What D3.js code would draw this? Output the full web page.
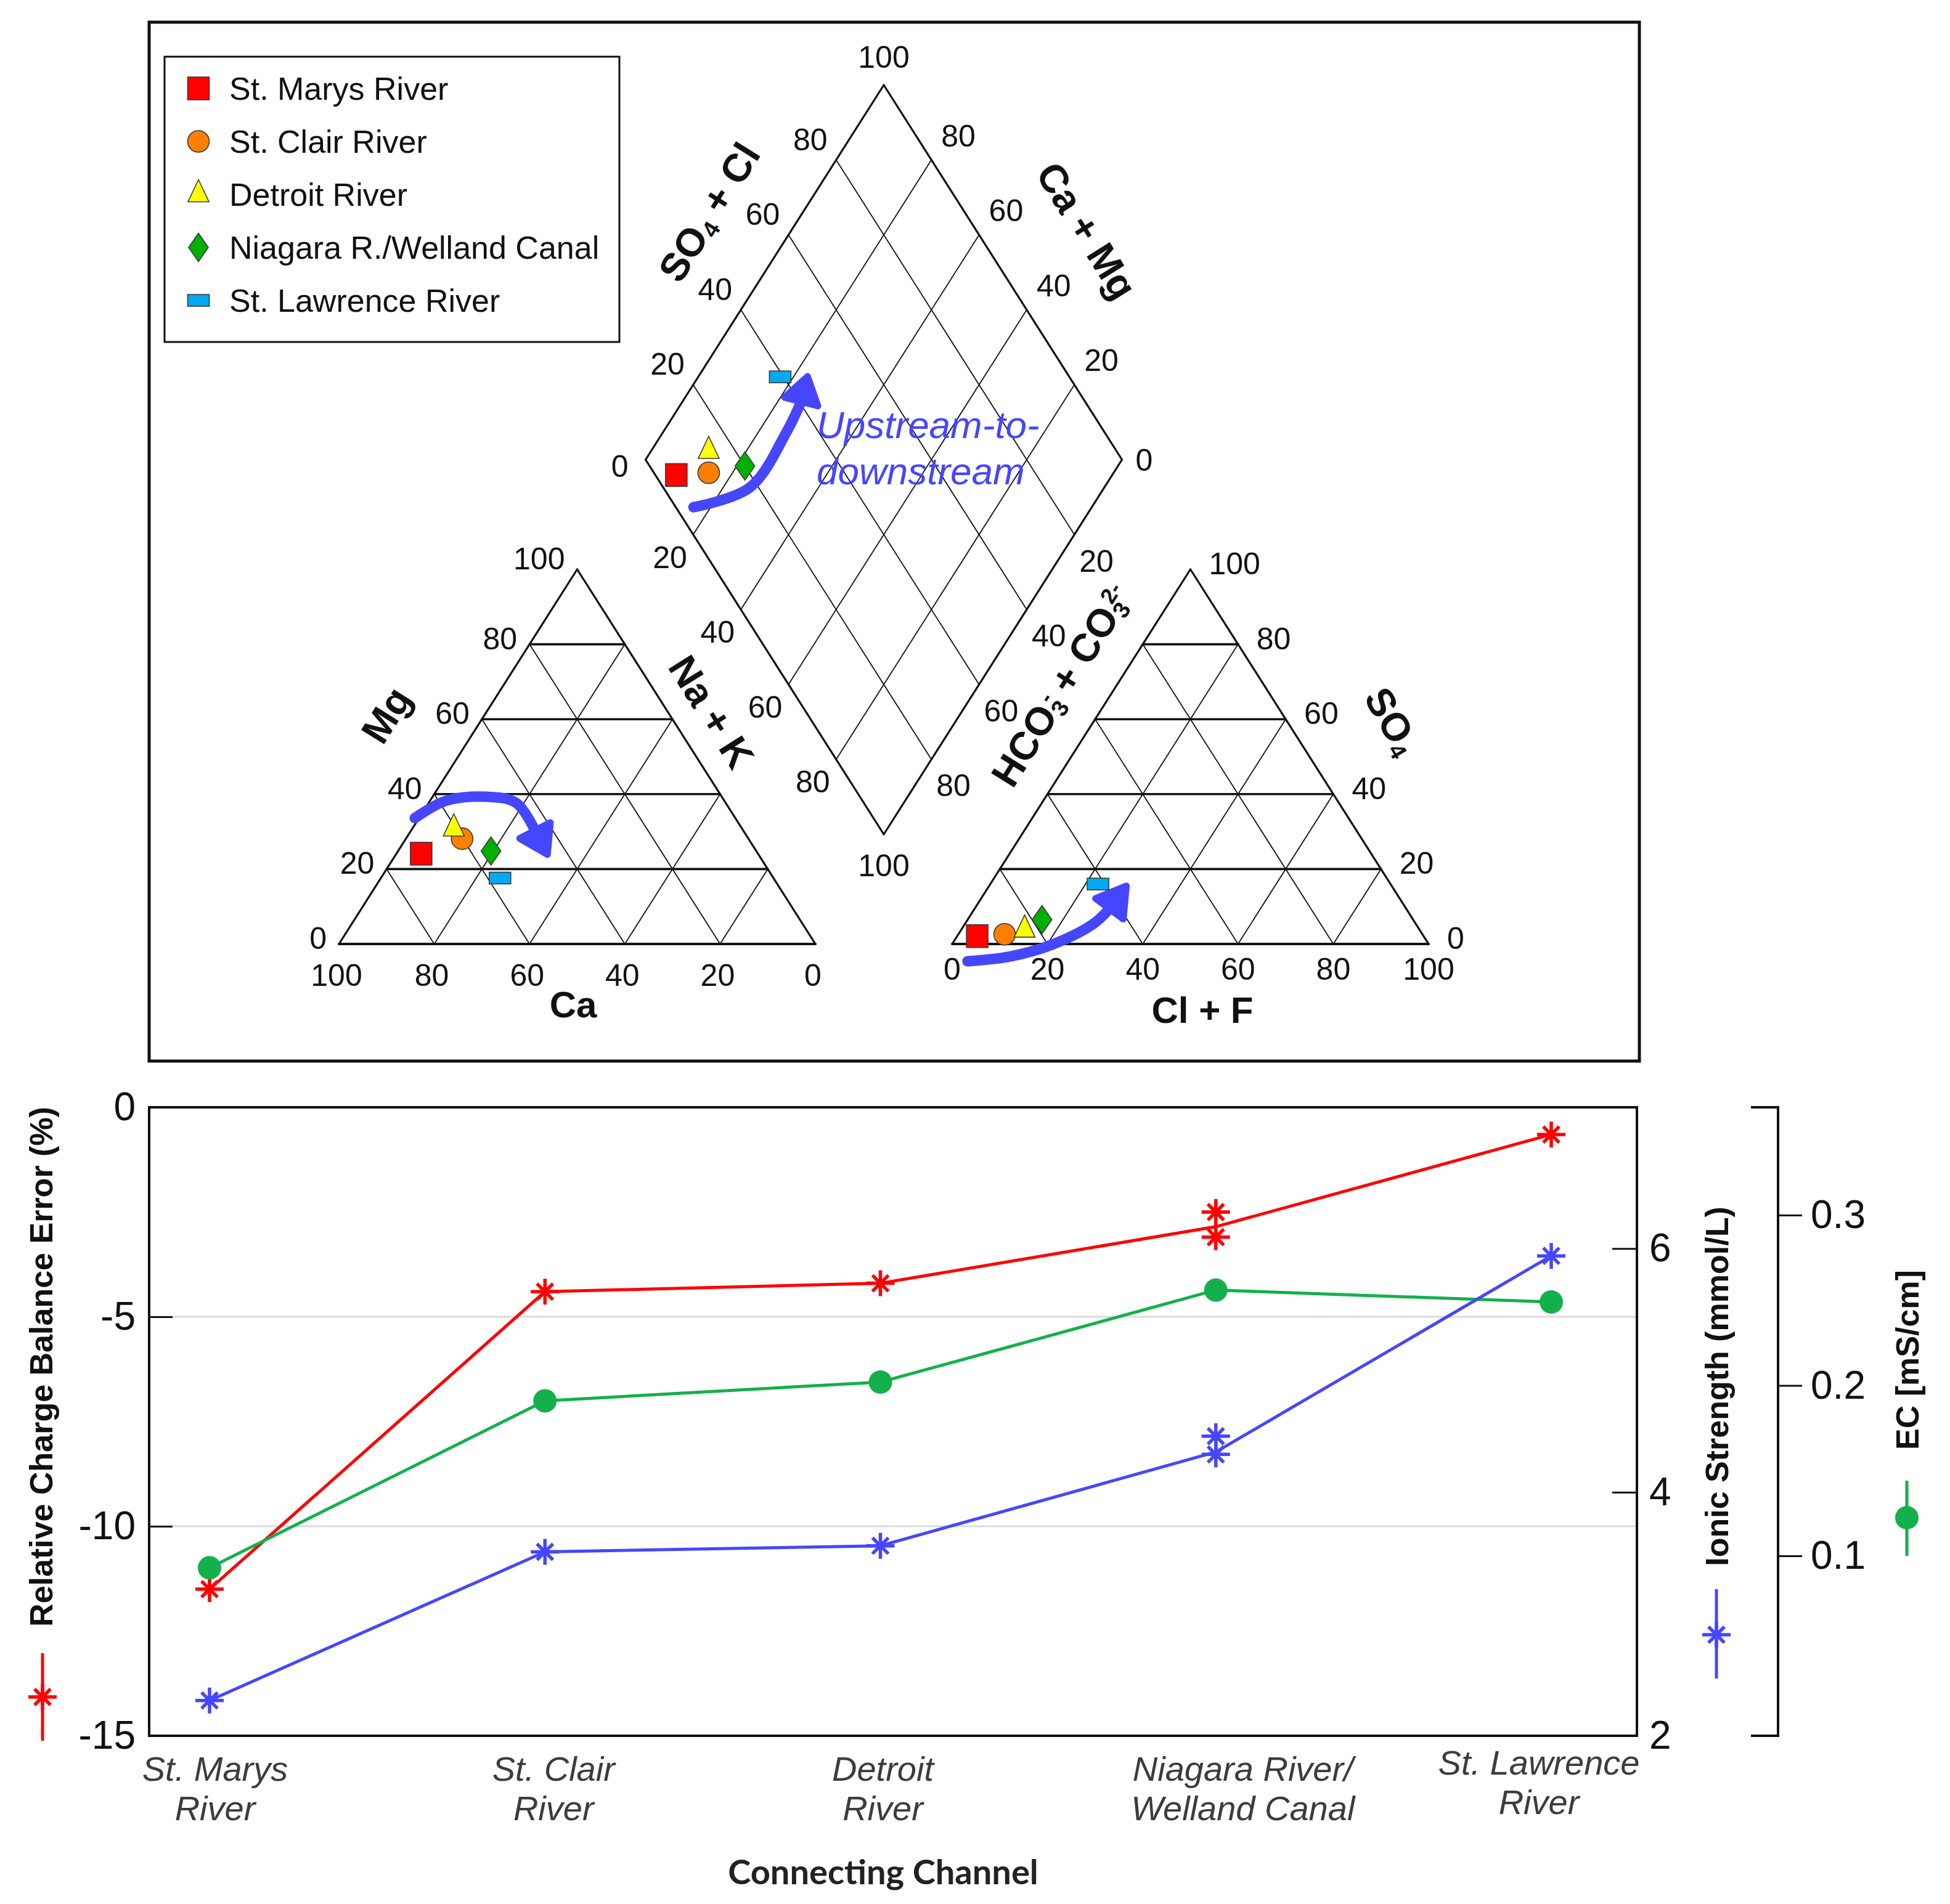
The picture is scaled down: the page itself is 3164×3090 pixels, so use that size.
<!DOCTYPE html>
<html>
<head>
<meta charset="utf-8">
<script src="https://cdn.jsdelivr.net/npm/d3@7"></script>
<style>
  body { margin: 0; background: #fff; }
  svg { display: block; font-family: "Liberation Sans", Arial, sans-serif; }
</style>
</head>
<body>
<svg id="chart" width="3164" height="3090"></svg>
<script>
(function () {
  'use strict';

  // ---- Piper diagram data (% meq) ----
  var sites = ['St. Marys River', 'St. Clair River', 'Detroit River', 'Niagara R./Welland Canal', 'St. Lawrence River'];
  var siteShapes = ['square', 'circle', 'triangle', 'diamond', 'rect'];
  var siteColors = ['#ff0000', '#ff8000', '#ffff00', '#00b000', '#00aaf0'];

  var cationMg = [24.1, 28.1, 30.8, 24.8, 17.6];
  var cationNaK = [5.2, 11.8, 8.7, 19.5, 25.0];
  var anionSO4 = [2.1, 2.6, 3.8, 6.5, 16.0];
  var anionClF = [4.2, 9.7, 13.3, 15.6, 22.6];
  var diamondSO4Cl = [4.4, 11.5, 14.4, 20.0, 39.3];
  var diamondNaK = [8.5, 15.0, 12.1, 21.7, 17.2];

  var piperTicks = [0, 20, 40, 60, 80, 100];

  // upstream-to-downstream arrows, in the same percent coordinates
  var cationArrowMg = [33.6, 38.2, 39.3, 37.7, 30.3, 23.9];
  var cationArrowNaK = [-0.9, 3.3, 11.4, 18.3, 26.0, 31.8];
  var anionArrowSO4 = [-4.6, -3.3, -0.2, 5.3, 9.4, 15.5];
  var anionArrowClF = [5.5, 13.9, 21.0, 26.9, 28.3, 28.8];
  var diamondArrowSO4Cl = [3.7, 18.2, 33.2, 40.4, 45.1];
  var diamondArrowNaK = [16.4, 25.6, 25.9, 24.9, 22.9];

  // ---- Connecting channel profile ----
  var channelLabels = [['St. Marys', 'River'], ['St. Clair', 'River'], ['Detroit', 'River'],
    ['Niagara River/', 'Welland Canal'], ['St. Lawrence', 'River']];
  var chargeError = [-11.5, -4.4, -4.2, -2.85, -0.65];
  var chargeErrorNiagara = [-2.5, -3.1];
  var ionicStrength = [2.29, 3.51, 3.56, 4.33, 5.94];
  var ionicStrengthNiagara = [4.46, 4.31];
  var ec = [0.093, 0.191, 0.202, 0.256, 0.249];
  var niagaraIndex = 3;

  var errTicks = [0, -5, -10, -15];
  var errGrid = [-5, -10];
  var ionicTicks = [2, 4, 6];
  var ecTicks = [0.1, 0.2, 0.3];

  // small hand nudges of the category labels, as in the source figure
  var labelShiftX = [9, 14, 4, 44, -20];
  var labelShiftY = [0, 0, 0, 0, -10];

  var ARROW_BLUE = '#4646ff';
  var RED = '#ff0000', BLUE = '#4646ff', GREEN = '#13b04b';

  var svg = d3.select('#chart');

  drawPiper(svg);
  drawLegend(svg);
  drawProfile(svg);

  // ------------------------------------------------------------------
  function drawMarker(g, shape, color, x, y) {
    var m;
    if (shape === 'circle') {
      m = g.append('circle').attr('cx', x).attr('cy', y).attr('r', 17.5);
    } else if (shape === 'square') {
      m = g.append('rect').attr('x', x - 17.5).attr('y', y - 18.5).attr('width', 35).attr('height', 37);
    } else if (shape === 'rect') {
      m = g.append('rect').attr('x', x - 17.5).attr('y', y - 9.5).attr('width', 35).attr('height', 19);
    } else if (shape === 'triangle') {
      m = g.append('path').attr('d', 'M' + x + ',' + (y - 24) + 'L' + (x + 17) + ',' + (y + 12) +
        'L' + (x - 17) + ',' + (y + 12) + 'Z');
    } else {
      m = g.append('path').attr('d', 'M' + x + ',' + (y - 23) + 'L' + (x + 16) + ',' + y +
        'L' + x + ',' + (y + 23) + 'L' + (x - 16) + ',' + y + 'Z');
    }
    m.style('fill', color).style('stroke', '#3a3a3a').style('stroke-width', 1.6);
  }

  function drawArrow(g, pts) {
    var shaft = pts.slice(0, -1);
    var base = shaft[shaft.length - 1];
    var tip = pts[pts.length - 1];
    var dx = tip[0] - base[0], dy = tip[1] - base[1];
    var len = Math.sqrt(dx * dx + dy * dy);
    var ux = dx / len, uy = dy / len;
    var hw = 28;

    g.append('path')
      .attr('d', d3.line().curve(d3.curveCatmullRom)(shaft))
      .style('fill', 'none')
      .style('stroke', ARROW_BLUE)
      .style('stroke-width', 17)
      .style('stroke-linecap', 'round')
      .style('stroke-linejoin', 'round');

    g.append('path')
      .attr('d', 'M' + tip[0] + ',' + tip[1] +
        'L' + (base[0] - uy * hw) + ',' + (base[1] + ux * hw) +
        'L' + (base[0] + uy * hw) + ',' + (base[1] - ux * hw) + 'Z')
      .style('fill', ARROW_BLUE)
      .style('stroke', ARROW_BLUE)
      .style('stroke-width', 11)
      .style('stroke-linejoin', 'round');
  }

  function drawPiper(svg) {
    var g = svg.append('g').classed('piper', true);

    var kx = d3.scaleLinear().domain([0, 100]).range([0, 773]);
    var ky = d3.scaleLinear().domain([0, 100]).range([0, 608]);
    var baseY = 1532, catX0 = 550, anX0 = 1545;
    var dLx = (catX0 + kx(100) + anX0) / 2 - kx(50);
    var dLy = 746;

    function cation(mg, nak) { return [catX0 + kx(nak + mg / 2), baseY - ky(mg)]; }
    function anion(so4, cl) { return [anX0 + kx(cl + so4 / 2), baseY - ky(so4)]; }
    function diamond(a, b) { return [dLx + kx(a + b) / 2, dLy + ky(b - a)]; }

    // outer frame of the figure
    g.append('rect')
      .attr('x', 242).attr('y', 36).attr('width', 2418).attr('height', 1686)
      .style('fill', 'none').style('stroke', '#111').style('stroke-width', 5);

    function seg(a, b, w) {
      g.append('line')
        .attr('x1', a[0]).attr('y1', a[1]).attr('x2', b[0]).attr('y2', b[1])
        .style('stroke', '#111').style('stroke-width', w).style('stroke-linecap', 'round');
    }

    var inner = piperTicks.slice(1, -1);

    // cation triangle
    inner.forEach(function (t) {
      seg(cation(0, t), cation(100 - t, t), 1.8);
      seg(cation(0, 100 - t), cation(100 - t, 0), 1.8);
      seg(cation(t, 0), cation(t, 100 - t), 3.6);
    });
    seg(cation(0, 0), cation(0, 100), 4);
    seg(cation(0, 100), cation(100, 0), 3.2);
    seg(cation(100, 0), cation(0, 0), 3.2);

    // anion triangle
    inner.forEach(function (t) {
      seg(anion(0, t), anion(100 - t, t), 1.8);
      seg(anion(0, 100 - t), anion(100 - t, 0), 1.8);
      seg(anion(t, 0), anion(t, 100 - t), 3.6);
    });
    seg(anion(0, 0), anion(0, 100), 4);
    seg(anion(0, 100), anion(100, 0), 3.2);
    seg(anion(100, 0), anion(0, 0), 3.2);

    // diamond
    inner.forEach(function (t) {
      seg(diamond(t, 0), diamond(t, 100), 1.8);
      seg(diamond(0, t), diamond(100, t), 1.8);
    });
    seg(diamond(0, 0), diamond(100, 0), 3.2);
    seg(diamond(100, 0), diamond(100, 100), 3.2);
    seg(diamond(100, 100), diamond(0, 100), 3.2);
    seg(diamond(0, 100), diamond(0, 0), 3.2);

    // tick labels
    function label(p, dx, dy, text, anchor) {
      g.append('text')
        .attr('x', p[0] + dx).attr('y', p[1] + dy)
        .attr('dy', '0.36em')
        .attr('text-anchor', anchor)
        .style('font-size', '50px')
        .style('fill', '#111')
        .text(text);
    }

    piperTicks.forEach(function (t) {
      label(cation(t, 0), -20, t === 100 ? -18 : -10, t, 'end');
      label(cation(0, 100 - t), -4, 50, t, 'middle');
      label(anion(0, t), 0, 40, t, 'middle');
      label(anion(t, 100 - t), 30, -10, t, 'start');

      if (t === 0) {
        label(diamond(0, 0), -28, 10, t, 'end');
        label(diamond(100, 100), 22, 0, t, 'start');
      } else if (t === 100) {
        label(diamond(100, 0), 0, -46, t, 'middle');
        label(diamond(0, 100), 0, 50, t, 'middle');
      } else {
        label(diamond(t, 0), -14, -34, t, 'end');
        label(diamond(100, 100 - t), 16, -40, t, 'start');
        label(diamond(0, t), -10, 36, t, 'end');
        label(diamond(100 - t, 100), 8, 42, t, 'start');
      }
    });

    // axis titles
    function title(x, y, angle, parts) {
      var t = g.append('text')
        .attr('transform', 'translate(' + x + ',' + y + ') rotate(' + angle + ')')
        .attr('text-anchor', 'middle')
        .attr('dy', '0.36em')
        .style('font-size', '64px')
        .style('font-weight', 'bold')
        .style('fill', '#111');
      parts.forEach(function (p) {
        var s = t.append('tspan').text(p.t);
        if (p.sub) {
          s.style('font-size', '38px').attr('baseline-shift', '-22%');
        }
        if (p.sup) {
          s.style('font-size', '36px').attr('baseline-shift', '62%');
        }
        if (p.dx) {
          s.attr('dx', p.dx);
        }
      });
    }

    title(1150, 344, -58, [{ t: 'SO' }, { t: '4', sub: true }, { t: ' + Cl' }]);
    title(1764, 374, 58, [{ t: 'Ca + Mg' }]);
    title(626, 1160, -58, [{ t: 'Mg' }]);
    title(1155, 1155, 58, [{ t: 'Na + K' }]);
    title(1722, 1112, -58, [{ t: 'HCO' }, { t: '3', sub: true }, { t: '-', sup: true, dx: -14 },
      { t: ' + CO' }, { t: '3', sub: true }, { t: '2-', sup: true, dx: -12 }]);
    title(2260, 1170, 60, [{ t: 'SO' }, { t: '4', sub: true }]);

    g.append('text')
      .attr('x', 930).attr('y', 1651)
      .attr('text-anchor', 'middle')
      .style('font-size', '60px').style('font-weight', 'bold').style('fill', '#111')
      .text('Ca');
    g.append('text')
      .attr('x', 1951).attr('y', 1660)
      .attr('text-anchor', 'middle')
      .style('font-size', '60px').style('font-weight', 'bold').style('fill', '#111')
      .text('Cl + F');

    // arrows
    drawArrow(g, cationArrowMg.map(function (mg, i) { return cation(mg, cationArrowNaK[i]); }));
    drawArrow(g, anionArrowSO4.map(function (s, i) { return anion(s, anionArrowClF[i]); }));
    drawArrow(g, diamondArrowSO4Cl.map(function (a, i) { return diamond(a, diamondArrowNaK[i]); }));

    // sample markers
    sites.forEach(function (site, i) {
      var p = cation(cationMg[i], cationNaK[i]);
      drawMarker(g, siteShapes[i], siteColors[i], p[0], p[1]);
      p = anion(anionSO4[i], anionClF[i]);
      drawMarker(g, siteShapes[i], siteColors[i], p[0], p[1]);
      p = diamond(diamondSO4Cl[i], diamondNaK[i]);
      drawMarker(g, siteShapes[i], siteColors[i], p[0], p[1]);
    });

    var note = g.append('text')
      .style('font-size', '62px')
      .style('font-style', 'italic')
      .style('fill', ARROW_BLUE);
    note.append('tspan').attr('x', 1325).attr('y', 711).text('Upstream-to-');
    note.append('tspan').attr('x', 1325).attr('y', 786).text('downstream');
  }

  function drawLegend(svg) {
    var g = svg.append('g').classed('legend', true);

    g.append('rect')
      .attr('x', 267).attr('y', 92).attr('width', 738).attr('height', 463)
      .style('fill', '#fff').style('stroke', '#111').style('stroke-width', 3);

    sites.forEach(function (site, i) {
      var y = 143.5 + i * 86;
      drawMarker(g, siteShapes[i], siteColors[i], 322, y);
      g.append('text')
        .attr('x', 372).attr('y', y)
        .attr('dy', '0.36em')
        .style('font-size', '52px')
        .style('fill', '#111')
        .text(site);
    });
  }

  function starPath(cx, cy) {
    return 'M' + cx + ',' + (cy - 21) + 'V' + (cy + 21) +
      'M' + (cx - 23) + ',' + cy + 'H' + (cx + 23) +
      'M' + (cx - 13) + ',' + (cy - 13) + 'L' + (cx + 13) + ',' + (cy + 13) +
      'M' + (cx - 13) + ',' + (cy + 13) + 'L' + (cx + 13) + ',' + (cy - 13);
  }

  function drawProfile(svg) {
    var g = svg.append('g').classed('profile', true);
    var plot = { left: 242, right: 2656, top: 1797, bottom: 2817 };

    var x = d3.scalePoint().domain(d3.range(channelLabels.length)).range([340, 2517]);
    var yErr = d3.scaleLinear().domain([-15, 0]).range([plot.bottom, plot.top]);
    var yIon = d3.scaleLinear().domain([2, 7.16]).range([plot.bottom, plot.top]);
    var yEc = d3.scaleLinear().domain([-0.0056, 0.3633]).range([plot.bottom, plot.top]);

    // grid
    g.selectAll('.grid')
      .data(errGrid)
      .enter()
      .append('line')
      .classed('grid', true)
      .attr('x1', plot.left).attr('x2', plot.right)
      .attr('y1', yErr).attr('y2', yErr)
      .style('stroke', '#dcdcdc').style('stroke-width', 3);

    function styleAxis(sel, size) {
      sel.select('.domain').remove();
      sel.attr('font-family', null).attr('font-size', null);
      sel.selectAll('line').style('stroke', '#111').style('stroke-width', 3);
      sel.selectAll('text').style('font-size', size).style('fill', '#111');
    }

    g.append('g')
      .attr('transform', 'translate(' + plot.left + ',0)')
      .call(d3.axisLeft(yErr).tickValues(errTicks).tickSizeInner(-38).tickSizeOuter(0)
        .tickPadding(22).tickFormat(function (d) { return String(d); }))
      .call(styleAxis, '64px');

    g.append('g')
      .attr('transform', 'translate(' + plot.right + ',0)')
      .call(d3.axisRight(yIon).tickValues(ionicTicks).tickSizeInner(-40).tickSizeOuter(0)
        .tickPadding(20).tickFormat(function (d) { return String(d); }))
      .call(styleAxis, '64px');

    var ecX = 2885;
    g.append('g')
      .attr('transform', 'translate(' + ecX + ',0)')
      .call(d3.axisRight(yEc).tickValues(ecTicks).tickSizeInner(39).tickSizeOuter(0)
        .tickPadding(14).tickFormat(d3.format('.1f')))
      .call(styleAxis, '64px');

    var r = yEc.range();
    g.append('path')
      .attr('d', 'M' + (ecX - 44) + ',' + r[1] + 'H' + ecX + 'V' + r[0] + 'H' + (ecX - 44))
      .style('fill', 'none').style('stroke', '#111').style('stroke-width', 4);

    // frame
    g.append('rect')
      .attr('x', plot.left).attr('y', plot.top)
      .attr('width', plot.right - plot.left).attr('height', plot.bottom - plot.top)
      .style('fill', 'none').style('stroke', '#111').style('stroke-width', 4);

    // series lines
    var idx = d3.range(channelLabels.length);
    function seriesLine(values, scale, color) {
      g.append('path')
        .datum(idx)
        .attr('d', d3.line().x(function (i) { return x(i); }).y(function (i) { return scale(values[i]); }))
        .style('fill', 'none').style('stroke', color).style('stroke-width', 5)
        .style('stroke-linejoin', 'round');
    }

    function starPoints(values, niagara, scale) {
      var pts = [];
      idx.forEach(function (i) {
        var vals = i === niagaraIndex ? niagara : [values[i]];
        vals.forEach(function (v) { pts.push([x(i), scale(v)]); });
      });
      return pts;
    }

    function stars(pts, color) {
      g.selectAll(null)
        .data(pts)
        .enter()
        .append('path')
        .attr('d', function (p) { return starPath(p[0], p[1]); })
        .style('fill', 'none').style('stroke', color).style('stroke-width', 5.5);
    }

    seriesLine(chargeError, yErr, RED);
    stars(starPoints(chargeError, chargeErrorNiagara, yErr), RED);

    seriesLine(ec, yEc, GREEN);
    g.selectAll(null)
      .data(idx)
      .enter()
      .append('circle')
      .attr('cx', function (i) { return x(i); })
      .attr('cy', function (i) { return yEc(ec[i]); })
      .attr('r', 19)
      .style('fill', GREEN);

    seriesLine(ionicStrength, yIon, BLUE);
    stars(starPoints(ionicStrength, ionicStrengthNiagara, yIon), BLUE);

    // category labels
    channelLabels.forEach(function (lines, i) {
      var t = g.append('text')
        .attr('text-anchor', 'middle')
        .style('font-size', '56px')
        .style('font-style', 'italic')
        .style('fill', '#3c3c3c');
      lines.forEach(function (line, k) {
        t.append('tspan')
          .attr('x', x(i) + labelShiftX[i])
          .attr('y', 2890 + labelShiftY[i] + k * 64)
          .text(line);
      });
    });

    g.append('text')
      .attr('x', 1433).attr('y', 3058)
      .attr('text-anchor', 'middle')
      .style('font-family', 'Lato, "Open Sans", sans-serif')
      .style('font-size', '56px').style('font-weight', 'bold').style('fill', '#222')
      .text('Connecting Channel');

    // rotated axis titles with their series keys
    function axisTitle(cx, cy, text) {
      g.append('text')
        .attr('transform', 'translate(' + cx + ',' + cy + ') rotate(-90)')
        .attr('text-anchor', 'middle')
        .attr('dy', '0.36em')
        .style('font-size', '52px').style('font-weight', 'bold').style('fill', '#111')
        .text(text);
    }
    function keyLine(cx, y1, y2, color) {
      g.append('line')
        .attr('x1', cx).attr('x2', cx).attr('y1', y1).attr('y2', y2)
        .style('stroke', color).style('stroke-width', 5);
    }

    axisTitle(66, 2218, 'Relative Charge Balance Error (%)');
    keyLine(69, 2683, 2825, RED);
    stars([[69, 2754]], RED);

    axisTitle(2785, 2250, 'Ionic Strength (mmol/L)');
    keyLine(2785, 2579, 2724, BLUE);
    stars([[2785, 2653]], BLUE);

    axisTitle(3094, 2207, 'EC [mS/cm]');
    keyLine(3094, 2403, 2525, GREEN);
    g.append('circle').attr('cx', 3094).attr('cy', 2463).attr('r', 19).style('fill', GREEN);
  }
}());
</script>
</body>
</html>
